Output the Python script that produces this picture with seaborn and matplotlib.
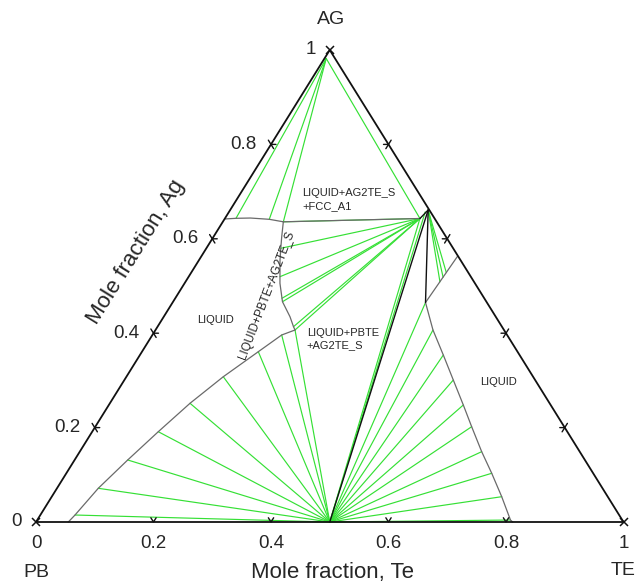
import matplotlib
matplotlib.use("Agg")
import matplotlib.pyplot as plt
import numpy as np
import pandas as pd
import seaborn as sns

# compositions are (x_Te, x_Ag); x_Pb = 1 - x_Te - x_Ag
fcc_pt = (0.003, 0.982)
ag2te_pt = (0.337, 0.661)
ag2te_pb = (0.332, 0.643)
pbte_pt = (0.500, 0.000)
liq_top = (0.103, 0.636)
liq_te = (0.4305, 0.465)
liq_te_edge = (0.436, 0.5625)

# liquid / fcc boundary
fcc_liq_te = [0.0, 0.0187, 0.043, 0.0764, 0.103]
fcc_liq_ag = [0.642, 0.6434, 0.644, 0.6413, 0.636]

# liquid / ag2te boundary
ag2te_liq_te = [0.103, 0.116, 0.1267, 0.1378, 0.1554, 0.1624, 0.1817, 0.1862, 0.2148, 0.2314, 0.2375]
ag2te_liq_ag = [0.636, 0.6045, 0.5799, 0.5551, 0.5197, 0.5057, 0.474, 0.4667, 0.435, 0.4138, 0.4068]

# liquid / pbte boundary, Pb rich side
pbte_liq_te = [0.2375, 0.2201, 0.198, 0.1649, 0.1364, 0.1125, 0.0904, 0.0703, 0.059, 0.055]
pbte_liq_ag = [0.4068, 0.3962, 0.3608, 0.3078, 0.2515, 0.1913, 0.1314, 0.0714, 0.0148, 0.0]

# liquid / pbte boundary, Te rich side
te_liq_te = [0.4305, 0.4723, 0.5164, 0.5599, 0.6034, 0.6406, 0.6841, 0.7241, 0.7659, 0.8055, 0.8114]
te_liq_ag = [0.465, 0.4068, 0.3538, 0.3008, 0.2479, 0.2019, 0.149, 0.1032, 0.0536, 0.0042, 0.0]

# liquid / ag2te on Te side (ends of tie lines)
ag2te_te_side_te = [0.4331, 0.4336, 0.4342]
ag2te_te_side_ag = [0.5089, 0.5186, 0.5284]

fcc_tie_idx = [1, 3, 4]
fan_tie_idx = [0, 2, 4, 6, 7, 9, 10]
left_tie_idx = [0, 1, 2, 3, 4, 5, 6, 7, 8]
right_tie_idx = [0, 1, 2, 3, 4, 5, 6, 7, 8, 9]

tick_vals = [0, 0.2, 0.4, 0.6, 0.8, 1]
tick_labels = ["0", "0.2", "0.4", "0.6", "0.8", "1"]

GREEN = "#35e035"
GRAY = "#6a6a6a"
BLACK = "#111111"


def to_xy(te, ag):
    return te + ag / 2.0, ag


def segs_df(pairs):
    rows = []
    for i, (p0, p1) in enumerate(pairs):
        for te, ag in (p0, p1):
            x, y = to_xy(te, ag)
            rows.append({"x": x, "y": y, "seg": i})
    return pd.DataFrame(rows)


def poly_df(curves):
    rows = []
    for i, (tes, ags) in enumerate(curves):
        for te, ag in zip(tes, ags):
            x, y = to_xy(te, ag)
            rows.append({"x": x, "y": y, "seg": i})
    return pd.DataFrame(rows)


sns.set_theme(style="white")
plt.rcParams["font.family"] = ["Liberation Sans", "DejaVu Sans"]

fig = plt.figure(figsize=(6.37, 5.84), dpi=100)
ax = fig.add_axes([36 / 637, 62 / 584, 587.5 / 637, 472 / 584])
ax.set_xlim(0, 1)
ax.set_ylim(0, 1)
ax.axis("off")

# tie lines
ties = []
for i in fcc_tie_idx:
    ties.append((fcc_pt, (fcc_liq_te[i], fcc_liq_ag[i])))
ties.append((fcc_pt, ag2te_pb))
for i in fan_tie_idx:
    ties.append((ag2te_pb, (ag2te_liq_te[i], ag2te_liq_ag[i])))
for i in left_tie_idx:
    ties.append((pbte_pt, (pbte_liq_te[i], pbte_liq_ag[i])))
for i in right_tie_idx:
    ties.append((pbte_pt, (te_liq_te[i], te_liq_ag[i])))
for te, ag in zip(ag2te_te_side_te, ag2te_te_side_ag):
    ties.append((ag2te_pt, (te, ag)))
ties.append((ag2te_pb, pbte_pt))
ties.append(((ag2te_pt[0] - 0.003, ag2te_pt[1] - 0.004), pbte_pt))

sns.lineplot(data=segs_df(ties), x="x", y="y", units="seg", estimator=None,
             sort=False, color=GREEN, lw=0.85, legend=False, ax=ax)

# phase boundaries
bounds = [(fcc_liq_te, fcc_liq_ag),
          ([liq_top[0], ag2te_pb[0]], [liq_top[1], ag2te_pb[1]]),
          (ag2te_liq_te, ag2te_liq_ag),
          (pbte_liq_te, pbte_liq_ag),
          (te_liq_te, te_liq_ag),
          ([liq_te[0], liq_te_edge[0]], [liq_te[1], liq_te_edge[1]])]
sns.lineplot(data=poly_df(bounds), x="x", y="y", units="seg", estimator=None,
             sort=False, color=GRAY, lw=0.9, legend=False, ax=ax)

# ag2te single phase sliver
sliver = [(ag2te_pt, pbte_pt), (ag2te_pt, liq_te), (ag2te_pb, ag2te_pt)]
sns.lineplot(data=segs_df(sliver), x="x", y="y", units="seg", estimator=None,
             sort=False, color=BLACK, lw=1.0, legend=False, ax=ax)

# triangle frame
frame = poly_df([([0, 1, 0, 0], [0, 0, 1, 0])])
sns.lineplot(data=frame, x="x", y="y", units="seg", estimator=None,
             sort=False, color=BLACK, lw=1.3, legend=False, ax=ax)

# ticks
k = 0.009
kh = 0.0085
for t in tick_vals[1:-1]:
    bx, by = to_xy(t, 0)
    ax.plot([bx - 0.5 * k, bx, bx + 0.5 * k], [k, 0, k], color=BLACK, lw=1)
    lx, ly = to_xy(0, t)
    ax.plot([lx + kh, lx, lx + 0.5 * k], [ly, ly, ly - k], color=BLACK, lw=1)
    ax.plot([lx, lx - 0.5 * k], [ly, ly + k], color=BLACK, lw=1)
    rx, ry = to_xy(1 - t, t)
    ax.plot([rx - kh, rx, rx - 0.5 * k], [ry, ry, ry - k], color=BLACK, lw=1)
    ax.plot([rx, rx + 0.5 * k], [ry, ry + k], color=BLACK, lw=1)
ax.plot([0, 1, 0.5], [0, 0, 1], ls="none", marker="x", ms=6, mew=1.1, color=BLACK)

for ln in ax.lines:
    ln.set_clip_on(False)

# tick labels
for t, lab in zip(tick_vals, tick_labels):
    ax.text(t, -0.045, lab, ha="center", va="center", fontsize=13.5)
    lx, ly = to_xy(0, t)
    ax.text(lx - 0.024, ly, lab, ha="right", va="center", fontsize=13.5)

ax.text(0.502, 1.065, "AG", ha="center", va="center", fontsize=14)
ax.text(0.001, -0.107, "PB", ha="center", va="center", fontsize=14)
ax.text(1.0, -0.102, "TE", ha="center", va="center", fontsize=14)
ax.text(0.504, -0.106, "Mole fraction, Te", ha="center", va="center", fontsize=16)
ax.text(0.170, 0.572, "Mole fraction, Ag", ha="center", va="center",
        fontsize=16, rotation=58.1)

# phase labels
ax.text(0.4528, 0.6833, "LIQUID+AG2TE_S\n+FCC_A1", ha="left", va="center",
        fontsize=8, linespacing=1.35)
ax.text(0.4608, 0.3873, "LIQUID+PBTE\n+AG2TE_S", ha="left", va="center",
        fontsize=8, linespacing=1.35)
ax.text(0.3047, 0.428, "LIQUID", ha="center", va="center", fontsize=8)
ax.text(0.7864, 0.2972, "LIQUID", ha="center", va="center", fontsize=8)
ax.text(0.3932, 0.4809, "LIQUID+PBTE+AG2TE_S", ha="center", va="center",
        fontsize=8.5, rotation=69)

fig.savefig("out.png", dpi=100)
